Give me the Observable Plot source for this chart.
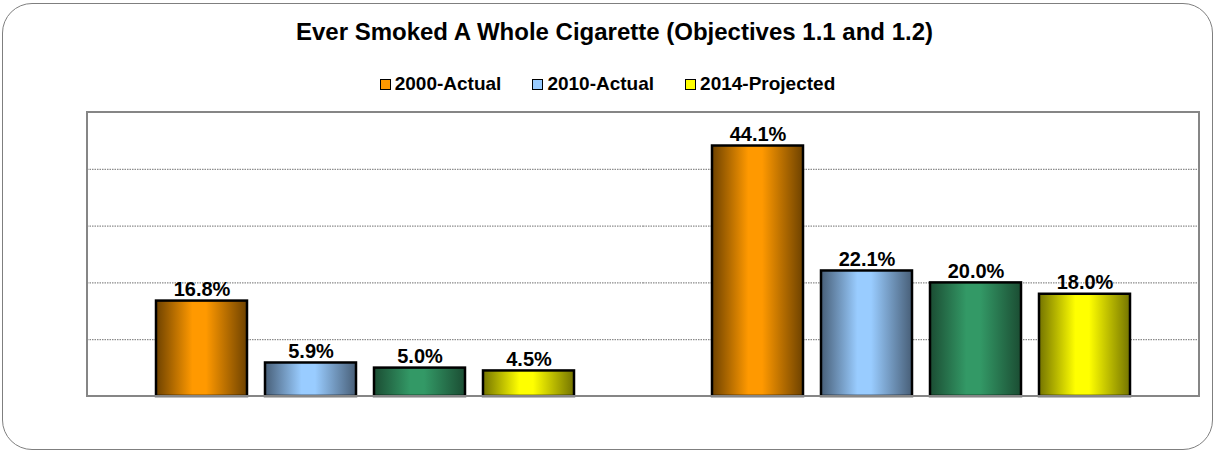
<!DOCTYPE html>
<html>
<head>
<meta charset="utf-8">
<script src="https://cdn.jsdelivr.net/npm/d3@7"></script>
<script src="https://cdn.jsdelivr.net/npm/@observablehq/plot@0.6"></script>
<style>
  html, body { margin: 0; padding: 0; background: #fff; }
  #wrap { position: relative; width: 1215px; height: 452px; overflow: hidden;
          font-family: "Liberation Sans", Arial, sans-serif; }
  #border { position: absolute; left: 2px; top: 3px; width: 1211px; height: 447px;
            box-sizing: border-box; border: 1.5px solid #7f7f7f; border-radius: 30px; }
  #title { position: relative; height: 64px; line-height: 64px; text-align: center;
           font-weight: bold; font-size: 24px; color: #000; padding-left: 14px; }
  #legend { position: relative; height: 40px; display: flex; justify-content: center;
            align-items: center; gap: 31px; font-weight: bold; font-size: 19px; color: #000; }
  #legend .item { display: flex; align-items: center; gap: 4px; }
  #legend .sw { width: 9px; height: 9px; border: 1px solid #000; }
  #chart { position: relative; }
  #chart svg { display: block; }
</style>
</head>
<body>
<div id="wrap">
  <div id="border"></div>
  <div id="title"></div>
  <div id="legend"></div>
  <div id="chart"></div>
</div>
<script>
// ---- data ----
const titleText = "Ever Smoked A Whole Cigarette (Objectives 1.1 and 1.2)";
const groups = ["Objective 1.1", "Objective 1.2"];
const series = ["2000-Actual", "2010-Actual", "2010-Target", "2014-Projected"];
const group1Values = [16.8, 5.9, 5.0, 4.5];
const group2Values = [44.1, 22.1, 20.0, 18.0];
const legendSeries = ["2000-Actual", "2010-Actual", "2014-Projected"];
const gridTicks = [10, 20, 30, 40];
const yMax = 50;

// ---- styles ----
const centerColors = ["#FF9900", "#99CCFF", "#339966", "#FFFF00"];
const edgeColors = ["#6E4200", "#485F78", "#1B4D33", "#747400"];
const legendColors = {"2000-Actual": "#FF9900", "2010-Actual": "#99CCFF", "2014-Projected": "#FFFF00"};

const data = [];
series.forEach((s, i) => {
  data.push({group: groups[0], series: s, value: group1Values[i]});
  data.push({group: groups[1], series: s, value: group2Values[i]});
});

document.getElementById("title").textContent = titleText;
const legend = document.getElementById("legend");
legendSeries.forEach(s => {
  const it = document.createElement("div");
  it.className = "item";
  const sw = document.createElement("div");
  sw.className = "sw";
  sw.style.background = legendColors[s];
  const t = document.createElement("span");
  t.textContent = s;
  it.appendChild(sw); it.appendChild(t);
  legend.appendChild(it);
});

const W = 1215, H = 348, mT = 8, mB = 56, mL = 87, mR = 16;
const gradIds = series.map((s, i) => "grad" + i);

const plot = Plot.plot({
  width: W, height: H,
  marginTop: mT, marginBottom: mB, marginLeft: mL, marginRight: mR,
  style: {fontFamily: "Liberation Sans, Arial, sans-serif", background: "transparent"},
  facet: {data: data, x: "group"},
  fx: {domain: groups, padding: 0, axis: null, label: null},
  x: {domain: series, paddingInner: 0.169, paddingOuter: 0.623, axis: null, label: null},
  y: {domain: [0, yMax], axis: null},
  color: {type: "ordinal", domain: series, range: gradIds.map(id => `url(#${id})`)},
  marks: [
    Plot.ruleY(gridTicks, {stroke: "#6f6f6f", strokeWidth: 1, strokeDasharray: "1.5,1"}),
    Plot.barY(data, {x: "series", y: "value", fill: "series", stroke: "#000", strokeWidth: 2.5}),
    Plot.text(data, {x: "series", y: "value", text: d => d.value.toFixed(1) + "%",
      lineAnchor: "bottom", dy: -5, fontSize: 20, fontWeight: "bold", fill: "#000"})
  ]
});

const svg = d3.select(plot);
const defs = svg.insert("defs", ":first-child");
series.forEach((s, i) => {
  const g = defs.append("linearGradient").attr("id", gradIds[i])
    .attr("x1", "0%").attr("x2", "100%").attr("y1", "0%").attr("y2", "0%");
  g.append("stop").attr("offset", "0%").attr("stop-color", edgeColors[i]);
  g.append("stop").attr("offset", "40%").attr("stop-color", centerColors[i]);
  g.append("stop").attr("offset", "55%").attr("stop-color", centerColors[i]);
  g.append("stop").attr("offset", "100%").attr("stop-color", edgeColors[i]);
});
// plot-area frame from the y scale's range
const yr = plot.scale("y").range;
svg.append("rect")
  .attr("x", mL).attr("y", Math.min(...yr))
  .attr("width", W - mL - mR).attr("height", Math.abs(yr[0] - yr[1]))
  .attr("fill", "none").attr("stroke", "#868686").attr("stroke-width", 2);

document.getElementById("chart").appendChild(plot);
</script>
</body>
</html>
